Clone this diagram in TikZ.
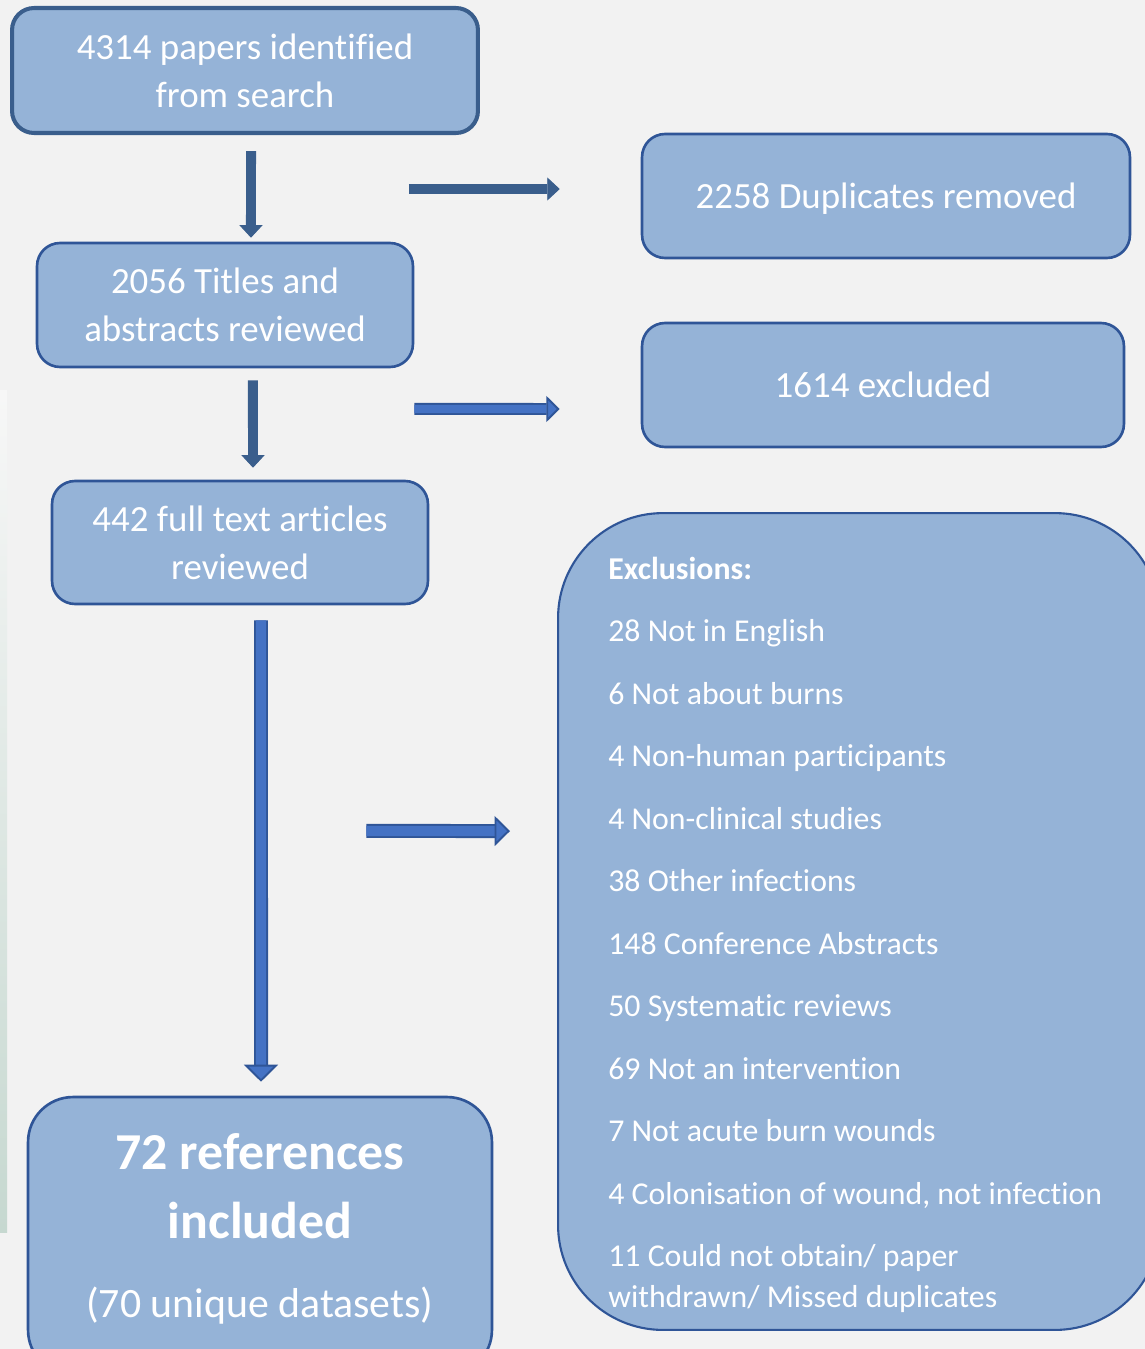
\documentclass[tikz,border=0pt]{standalone}
\usepackage{fontspec}
\setmainfont{Carlito}[Ligatures={NoCommon}, RawFeature={-liga;-clig}]
\usetikzlibrary{arrows.meta,positioning}

\definecolor{pagebg}{HTML}{F2F2F2}
\definecolor{boxfill}{HTML}{95B3D7}
\definecolor{edgedark}{HTML}{3A5E8C}
\definecolor{edgeblue}{HTML}{2F5597}
\definecolor{arrowblue}{HTML}{4472C4}

\tikzset{
  box/.style={draw=edgeblue, fill=boxfill, line width=1.5pt, rounded corners=0.46cm,
    text=white, align=center, inner sep=0pt, font=\fontsize{21}{27.2}\selectfont},
  listtext/.style={text=white, anchor=base west, inner sep=0pt, font=\fontsize{18.1}{22}\selectfont},
  darkarrow/.style={draw=edgedark, line width=0.2cm,
    -{Triangle[length=0.25cm, width=0.46cm, line width=0.5pt]}},
  bluearrow/.style n args={3}{draw=edgeblue, line width=#1,
    -{Triangle[length=#2, width=#3, fill=arrowblue, line width=1.1pt]},
    postaction={draw=arrowblue, line width=#1-2.2pt, -, shorten >=#2}},
}

\begin{document}
\begin{tikzpicture}[x=0.02cm, y=-0.02cm]
    % Page
    \fill[pagebg] (0,0) rectangle (1145,1349);
    \useasboundingbox (0,0) rectangle (1145,1349);
    \shade[top color=pagebg!60!white, middle color={rgb,255:red,244;green,244;blue,250}, bottom color={rgb,255:red,198;green,216;blue,208}] (0,390) rectangle (7,1232);

    % Boxes
    \node[box, draw=edgedark, line width=2.3pt, rounded corners=0.44cm, minimum width=9.32cm, minimum height=2.5cm] (search) at (245,70.5) {4314 papers identified\\from search};
    \node[box, text depth=0pt, minimum width=9.76cm, minimum height=2.48cm] (dup) at (886,196) {2258 Duplicates removed};
    \node[box, minimum width=7.52cm, minimum height=2.48cm] (titles) at (225,305) {2056 Titles and\\abstracts reviewed};
    \node[box, text depth=0pt, minimum width=9.64cm, minimum height=2.48cm] (excl) at (883,385) {1614 excluded};
    \node[box, minimum width=7.52cm, minimum height=2.46cm] (fulltext) at (240,542.5) {442 full text articles\\reviewed};
    \node[box, rounded corners=0.9cm, minimum width=9.28cm, minimum height=5.56cm] (incl) at (260,1236) {};
    \node[box, line width=1.2pt, rounded corners=2.1cm, minimum width=12.04cm, minimum height=16.34cm] (exclist) at (859,921.5) {};

    % Included
    \node[text=white, anchor=base, inner sep=0pt, font=\bfseries\fontsize{29.5}{36}\selectfont] (inclA) at (260,1169) {72 references};
    \node[text=white, anchor=base, inner sep=0pt, font=\bfseries\fontsize{29.5}{36}\selectfont] (inclB) at (260,1238) {included};
    \node[text=white, anchor=base, inner sep=0pt, font=\fontsize{23.8}{30}\selectfont] (inclC) at (260,1317) {(70 unique datasets)};

    % Exclusion list
    \node[listtext, font=\bfseries\fontsize{18.1}{22}\selectfont] (exhead) at (608,579) {Exclusions:};
    \foreach \ly/\lt [count=\i] in {641/{28 Not in English}, 704/{6 Not about burns},
        766/{4 Non-human participants}, 829/{4 Non-clinical studies},
        891/{38 Other infections}, 954/{148 Conference Abstracts},
        1016/{50 Systematic reviews}, 1079/{69 Not an intervention},
        1141/{7 Not acute burn wounds}, 1204/{4 Colonisation of wound, not infection},
        1266/{11 Could not obtain/ paper}, 1307/{withdrawn/ Missed duplicates}}
      \node[listtext] (ex\i) at (608,\ly) {\lt};

    % Arrows
    \draw[darkarrow] ([xshift=0.12cm,yshift=-0.32cm]search.south) -- ([xshift=0.52cm,yshift=0.08cm]titles.north);
    \draw[darkarrow] ([xshift=-4.64cm,yshift=0.14cm]dup.west) -- ([xshift=-1.62cm,yshift=0.14cm]dup.west);
    \draw[darkarrow] ([xshift=0.56cm,yshift=-0.24cm]titles.south) -- ([xshift=0.26cm,yshift=0.24cm]fulltext.north);
    \draw[bluearrow={0.24cm}{0.27cm}{0.52cm}] ([yshift=-2.08cm]titles.east) -- ([xshift=-1.62cm,yshift=-0.48cm]excl.west);
    \draw[bluearrow={0.28cm}{0.34cm}{0.68cm}] ([xshift=0.42cm,yshift=-0.3cm]fulltext.south) -- ([xshift=0.02cm,yshift=0.28cm]incl.north);
    \draw[bluearrow={0.28cm}{0.31cm}{0.6cm}] ([xshift=-1.26cm,yshift=-5.77cm]fulltext.east) -- ([xshift=-0.94cm,yshift=1.81cm]exclist.west);
\end{tikzpicture}
\end{document}
